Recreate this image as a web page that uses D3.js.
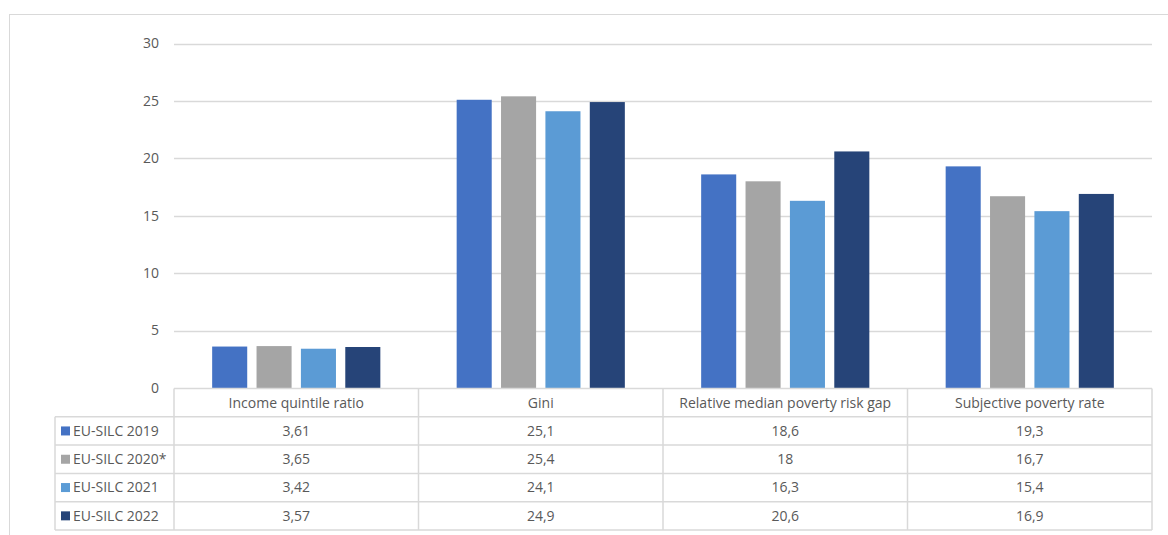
<!DOCTYPE html>
<html>
<head>
<meta charset="utf-8">
<script src="https://cdn.jsdelivr.net/npm/d3@7"></script>
<style>
  html, body { margin: 0; padding: 0; background: #fff; }
  svg { display: block; font-family: "Open Sans", Lato, sans-serif; }
</style>
</head>
<body>
<svg id="chart" width="1168" height="535"></svg>
<script>
const categories = ["Income quintile ratio", "Gini", "Relative median poverty risk gap", "Subjective poverty rate"];
const seriesNames = ["EU-SILC 2019", "EU-SILC 2020*", "EU-SILC 2021", "EU-SILC 2022"];
const colors = ["#4472C4", "#A5A5A5", "#5B9BD5", "#264478"];
const v2019 = [3.61, 25.1, 18.6, 19.3];
const v2020 = [3.65, 25.4, 18, 16.7];
const v2021 = [3.42, 24.1, 16.3, 15.4];
const v2022 = [3.57, 24.9, 20.6, 16.9];
const yTicks = [0, 5, 10, 15, 20, 25, 30];

const series = [v2019, v2020, v2021, v2022];
const fmt = v => String(v).replace(".", ",");

const svg = d3.select("#chart");
const textColor = "#595959";
const gridColor = "#D9D9D9";
const fontSize = 14;

// outer chart frame
svg.append("rect")
  .attr("x", 9.5).attr("y", 14.5).attr("width", 1170).attr("height", 540)
  .attr("fill", "none").attr("stroke", gridColor).attr("stroke-width", 1);

const plotLeft = 174, plotRight = 1152;
const y = d3.scaleLinear().domain([0, 30]).range([388, 43.5]);
const x = d3.scaleBand().domain(categories).range([plotLeft, plotRight]).paddingInner(0).paddingOuter(0);
const xs = d3.scaleBand().domain(d3.range(series.length)).range([0, x.bandwidth()]).paddingInner(0.21).paddingOuter(0.86);

// gridlines
svg.append("g").selectAll("line").data(yTicks.filter(t => t > 0)).join("line")
  .attr("x1", plotLeft).attr("x2", plotRight)
  .attr("y1", d => Math.round(y(d)) + 0.5).attr("y2", d => Math.round(y(d)) + 0.5)
  .attr("stroke", gridColor).attr("stroke-width", 1.3);

// y tick labels
svg.append("g").selectAll("text").data(yTicks).join("text")
  .attr("x", 159).attr("y", d => y(d)).attr("dy", "0.35em")
  .attr("text-anchor", "end").attr("fill", textColor).attr("font-size", fontSize)
  .text(d => d);

// bars
const groups = svg.append("g").selectAll("g").data(categories).join("g")
  .attr("transform", d => `translate(${x(d)},0)`);
groups.selectAll("rect").data((c, ci) => series.map((s, si) => ({ si, v: s[ci] }))).join("rect")
  .attr("x", d => xs(d.si)).attr("width", xs.bandwidth())
  .attr("y", d => y(d.v)).attr("height", d => y(0) - y(d.v))
  .attr("fill", d => colors[d.si]);

// data table
const headerTop = 388.5, rowH = 28.3, rowHeadLeft = 55;
const tbl = svg.append("g").attr("stroke", gridColor).attr("stroke-width", 1.5).attr("fill", "none");
const bottom = headerTop + rowH * 5;
// horizontal lines
tbl.append("line").attr("x1", plotLeft).attr("x2", plotRight).attr("y1", headerTop).attr("y2", headerTop);
d3.range(1, 6).forEach(i => {
  tbl.append("line").attr("x1", rowHeadLeft).attr("x2", plotRight)
    .attr("y1", headerTop + rowH * i).attr("y2", headerTop + rowH * i);
});
// vertical lines
tbl.append("line").attr("x1", rowHeadLeft).attr("x2", rowHeadLeft).attr("y1", headerTop + rowH).attr("y2", bottom);
categories.forEach(c => {
  tbl.append("line").attr("x1", x(c)).attr("x2", x(c)).attr("y1", headerTop).attr("y2", bottom);
});
tbl.append("line").attr("x1", plotRight).attr("x2", plotRight).attr("y1", headerTop).attr("y2", bottom);

// header labels
svg.append("g").selectAll("text").data(categories).join("text")
  .attr("x", d => x(d) + x.bandwidth() / 2).attr("y", headerTop + rowH / 2).attr("dy", "0.35em")
  .attr("text-anchor", "middle").attr("fill", textColor).attr("font-size", fontSize)
  .text(d => d);

// row headers with legend keys
const rows = svg.append("g").selectAll("g").data(seriesNames).join("g")
  .attr("transform", (d, i) => `translate(0,${headerTop + rowH * (i + 1) + rowH / 2})`);
rows.append("rect").attr("x", 61).attr("y", -4.5).attr("width", 9).attr("height", 9)
  .attr("fill", (d, i) => colors[i]);
rows.append("text").attr("x", 73).attr("dy", "0.35em")
  .attr("fill", textColor).attr("font-size", fontSize).text(d => d);

// values
rows.each(function (d, si) {
  d3.select(this).selectAll("text.val").data(categories).join("text")
    .attr("class", "val")
    .attr("x", c => x(c) + x.bandwidth() / 2).attr("dy", "0.35em")
    .attr("text-anchor", "middle").attr("fill", textColor).attr("font-size", fontSize)
    .text((c, ci) => fmt(series[si][ci]));
});
</script>
</body>
</html>
